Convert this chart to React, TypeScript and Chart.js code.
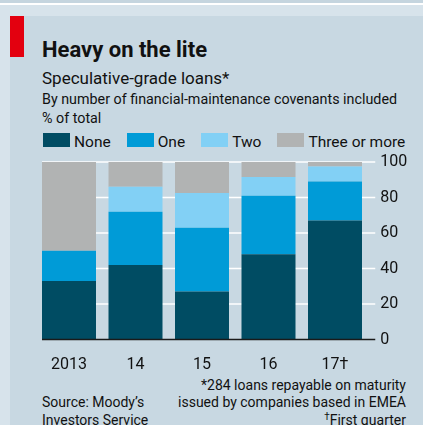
import React, { useEffect, useRef } from "react";
import { Chart, registerables } from "chart.js";

Chart.register(...registerables);

const categories = ["2013", "14", "15", "16", "17†"];
const seriesNames = ["None", "One", "Two", "Three or more"];
const noneValues = [33, 42, 27, 48, 67];
const oneValues = [17, 30, 36, 33, 22];
const twoValues = [0, 14, 19.5, 10.5, 8.5];
const threeValues = [50, 14, 17.5, 8.5, 2.5];
const seriesColors = ["#004c63", "#009bd7", "#82d0f5", "#b1b3b3"];
const yTicks = [0, 20, 40, 60, 80, 100];

const FONT = "Roboto, 'Noto Sans', sans-serif";

const econPlugin = {
  id: "econGrid",
  beforeDatasetsDraw(chart: any) {
    const { ctx, chartArea, scales } = chart;
    const y = scales.y;
    const bar = chart.getDatasetMeta(0).data[0];
    const x0 = bar.x - bar.width / 2;
    const x1 = chartArea.right + 7;
    ctx.save();
    ctx.strokeStyle = "#ffffff";
    ctx.lineWidth = 1.5;
    y.ticks.forEach((t: any) => {
      if (t.value === 0) return;
      const py = y.getPixelForValue(t.value);
      ctx.beginPath();
      ctx.moveTo(x0, py);
      ctx.lineTo(x1, py);
      ctx.stroke();
    });
    ctx.restore();
  },
  afterDatasetsDraw(chart: any) {
    const { ctx, chartArea, scales } = chart;
    const y = scales.y;
    const bar = chart.getDatasetMeta(0).data[0];
    const x0 = bar.x - bar.width / 2;
    const x1 = chartArea.right + 7;
    const py = y.getPixelForValue(0);
    ctx.save();
    ctx.strokeStyle = "#1a1a1a";
    ctx.lineWidth = 1.5;
    ctx.beginPath();
    ctx.moveTo(x0, py);
    ctx.lineTo(x1, py);
    ctx.stroke();
    ctx.restore();
  },
};

export default function App() {
  const ref = useRef<HTMLCanvasElement>(null);

  useEffect(() => {
    if (!ref.current) return;
    const allValues = [noneValues, oneValues, twoValues, threeValues];
    const chart = new Chart(ref.current, {
      type: "bar",
      data: {
        labels: categories,
        datasets: allValues.map((vals, i) => ({
          label: seriesNames[i],
          data: vals,
          backgroundColor: seriesColors[i],
          borderWidth: 0,
          barPercentage: 0.812,
          categoryPercentage: 1,
        })),
      },
      options: {
        responsive: false,
        maintainAspectRatio: false,
        animation: false,
        layout: { padding: { left: 35.75, top: 12, right: 0, bottom: 0 } },
        plugins: { legend: { display: false }, tooltip: { enabled: false } },
        scales: {
          x: {
            stacked: true,
            grid: { display: false, drawTicks: false },
            border: { display: false },
            ticks: {
              color: "#111",
              font: { family: FONT, size: 16 },
              padding: 16,
              maxRotation: 0,
            },
            afterFit: (s: any) => {
              s.height = 35.5;
              s.paddingLeft = 0;
              s.paddingRight = 0;
              s.paddingTop = 0;
              s.paddingBottom = 0;
            },
          },
          y: {
            stacked: true,
            position: "right",
            min: 0,
            max: 100,
            afterBuildTicks: (s: any) => {
              s.ticks = yTicks.map((v) => ({ value: v }));
            },
            grid: { display: false, drawTicks: false },
            border: { display: false },
            ticks: {
              color: "#111",
              font: { family: FONT, size: 16 },
              padding: 12,
            },
            afterFit: (s: any) => {
              s.width = 54.75;
              s.paddingTop = 0;
              s.paddingBottom = 0;
              s.paddingLeft = 0;
              s.paddingRight = 0;
            },
          },
        },
      },
      plugins: [econPlugin],
    });
    return () => chart.destroy();
  }, []);

  const txt = (extra: React.CSSProperties): React.CSSProperties => ({
    position: "absolute",
    fontFamily: FONT,
    color: "#111",
    whiteSpace: "nowrap",
    lineHeight: 1,
    ...extra,
  });

  return (
    <div
      style={{
        position: "absolute",
        left: 0,
        top: 0,
        width: 423,
        height: 425,
        background: "#d7e3eb",
        overflow: "hidden",
      }}
    >
      <div style={{ position: "absolute", left: 0, top: 0, width: 423, height: 3, background: "#c5d5df" }} />
      <div style={{ position: "absolute", left: 0, top: 3, width: 423, height: 2, background: "#ffffff" }} />
      <div style={{ position: "absolute", left: 10, top: 16, width: 413, height: 409, background: "#c8d8e2" }} />
      <div style={{ position: "absolute", left: 10, top: 16, width: 14, height: 41, background: "#e3000f" }} />
      <div style={txt({ left: 42, top: 38.5, fontSize: 22, fontWeight: 700 })}>Heavy on the lite</div>
      <div style={txt({ left: 42, top: 69.7, fontSize: 17 })}>Speculative-grade loans*</div>
      <div style={txt({ left: 42, top: 92.3, fontSize: 14.3 })}>
        By number of financial-maintenance covenants included
      </div>
      <div style={txt({ left: 42, top: 111.3, fontSize: 14.3 })}>% of total</div>
      <div style={{ position: "absolute", left: 43, top: 133, display: "flex", alignItems: "flex-start" }}>
        {seriesNames.map((n, i) => (
          <div key={n} style={{ display: "flex", alignItems: "flex-start", marginRight: 16 }}>
            <div style={{ width: 27, height: 14, background: seriesColors[i] }} />
            <div
              style={{
                marginLeft: 4,
                fontFamily: FONT,
                fontSize: 15.5,
                lineHeight: "16px",
                color: "#111",
                whiteSpace: "nowrap",
                marginTop: 0.5,
              }}
            >
              {n}
            </div>
          </div>
        ))}
      </div>
      <canvas
        ref={ref}
        width={423}
        height={225}
        style={{ position: "absolute", left: 0, top: 150, width: 423, height: 225 }}
      />
      <div style={txt({ left: 42, top: 394, fontSize: 14, lineHeight: "17.5px" })}>
        Source: Moody’s
        <br />
        Investors Service
      </div>
      <div style={txt({ right: 17, top: 376.5, fontSize: 14, lineHeight: "17.5px", textAlign: "right" })}>
        *284 loans repayable on maturity
        <br />
        issued by companies based in EMEA
        <br />
        <sup style={{ fontSize: 10, verticalAlign: "top", lineHeight: 1 }}>†</sup>First quarter
      </div>
    </div>
  );
}
